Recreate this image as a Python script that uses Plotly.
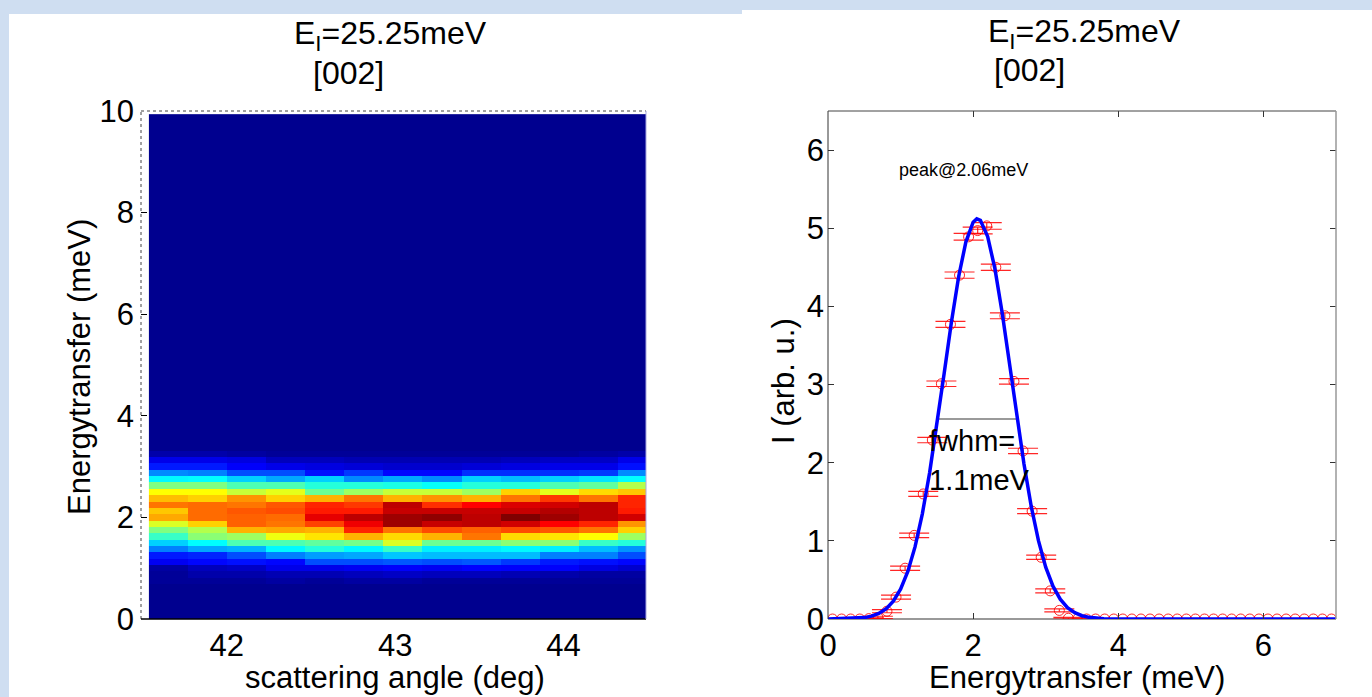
import plotly.graph_objects as go

W, H = 1372, 697
FONT = "Liberation Sans"

# ---------------- data: left panel (heatmap) ----------------
angle_centers = [41.653, 41.885, 42.117, 42.349, 42.581, 42.813, 43.045,
                 43.277, 43.509, 43.741, 43.973, 44.205, 44.437]
E_START, E_STEP, N_E = 0.0, 0.125, 80
BAND_FIRST_ROW = 6  # energy row index of first band row (E = 0.75 meV)
# normalised intensity, rows from E=0.75 up to E=3.25 meV, 13 angle columns
band_rows = [
    [0.01, 0.01, 0.01, 0.02, 0.01, 0.02, 0.02, 0.01, 0.01, 0.01, 0.01, 0.01, 0.01],
    [0.01, 0.03, 0.03, 0.04, 0.04, 0.05, 0.06, 0.05, 0.05, 0.04, 0.03, 0.02, 0.02],
    [0.02, 0.05, 0.06, 0.10, 0.10, 0.11, 0.12, 0.11, 0.125, 0.12, 0.12, 0.09, 0.07],
    [0.11, 0.13, 0.14, 0.13, 0.20, 0.20, 0.21, 0.20, 0.21, 0.18, 0.15, 0.14, 0.13],
    [0.15, 0.16, 0.20, 0.25, 0.28, 0.29, 0.32, 0.31, 0.31, 0.31, 0.25, 0.25, 0.20],
    [0.25, 0.29, 0.30, 0.37, 0.41, 0.37, 0.43, 0.36, 0.36, 0.37, 0.36, 0.31, 0.27],
    [0.33, 0.375, 0.45, 0.45, 0.47, 0.49, 0.59, 0.48, 0.48, 0.51, 0.51, 0.43, 0.41],
    [0.43, 0.51, 0.53, 0.61, 0.65, 0.70, 0.66, 0.70, 0.76, 0.66, 0.65, 0.625, 0.53],
    [0.50, 0.55, 0.70, 0.71, 0.70, 0.84, 0.76, 0.80, 0.78, 0.80, 0.79, 0.76, 0.67],
    [0.59, 0.67, 0.78, 0.76, 0.81, 0.89, 0.97, 0.93, 0.94, 0.92, 0.875, 0.84, 0.73],
    [0.71, 0.77, 0.78, 0.77, 0.90, 0.94, 0.97, 0.985, 0.94, 1.00, 0.97, 0.94, 0.92],
    [0.68, 0.77, 0.79, 0.80, 0.85, 0.85, 0.93, 0.93, 0.93, 0.93, 0.95, 0.94, 0.85],
    [0.76, 0.77, 0.76, 0.79, 0.84, 0.82, 0.94, 0.83, 0.875, 0.91, 0.92, 0.94, 0.84],
    [0.69, 0.67, 0.73, 0.67, 0.70, 0.76, 0.70, 0.73, 0.70, 0.76, 0.82, 0.76, 0.84],
    [0.625, 0.625, 0.57, 0.60, 0.48, 0.53, 0.57, 0.57, 0.53, 0.67, 0.60, 0.66, 0.68],
    [0.50, 0.50, 0.45, 0.45, 0.41, 0.41, 0.40, 0.38, 0.41, 0.41, 0.45, 0.47, 0.55],
    [0.37, 0.375, 0.33, 0.29, 0.33, 0.26, 0.29, 0.26, 0.33, 0.31, 0.33, 0.35, 0.375],
    [0.26, 0.25, 0.20, 0.20, 0.14, 0.18, 0.13, 0.13, 0.17, 0.17, 0.17, 0.18, 0.26],
    [0.15, 0.15, 0.12, 0.10, 0.09, 0.08, 0.07, 0.07, 0.08, 0.09, 0.10, 0.10, 0.14],
    [0.10, 0.10, 0.09, 0.05, 0.05, 0.04, 0.04, 0.04, 0.04, 0.05, 0.06, 0.06, 0.10],
    [0.03, 0.03, 0.02, 0.01, 0.01, 0.01, 0.01, 0.01, 0.01, 0.01, 0.01, 0.02, 0.03],
]
ncol = len(angle_centers)
z_map = ([[0.0] * ncol for _ in range(BAND_FIRST_ROW)] + band_rows +
         [[0.0] * ncol for _ in range(N_E - BAND_FIRST_ROW - len(band_rows))])

# ---------------- data: right panel (cut + fit) ----------------
PT_START, PT_STEP = 0.0625, 0.125
I_points = [0, 0, 0, 0, 0.005, 0.02, 0.10, 0.28, 0.65, 1.07, 1.60, 2.29, 3.01,
            3.77, 4.40, 4.89, 4.97, 5.03, 4.50, 3.88, 3.04, 2.15, 1.38, 0.79,
            0.36, 0.11, 0.01] + [0] * 29
I_err = [0, 0, 0, 0, 0.01, 0.015, 0.02, 0.025, 0.027, 0.03, 0.032, 0.035, 0.035,
         0.038, 0.04, 0.043, 0.043, 0.043, 0.04, 0.038, 0.035, 0.035, 0.032,
         0.028, 0.025, 0.02, 0.01] + [0] * 29
fit_E = [0.0, 0.4, 0.5, 0.6, 0.7, 0.8, 0.9, 1.0, 1.1, 1.2, 1.3, 1.4, 1.5, 1.6,
         1.7, 1.8, 1.9, 2.0, 2.05, 2.1, 2.2, 2.3, 2.4, 2.5, 2.6, 2.7, 2.8, 2.9,
         3.0, 3.1, 3.2, 3.3, 3.4, 3.5, 3.6, 3.7, 3.8, 7.0]
fit_I = [0.0, 0.009, 0.018, 0.037, 0.071, 0.130, 0.228, 0.381, 0.608, 0.926,
         1.346, 1.870, 2.480, 3.139, 3.794, 4.379, 4.826, 5.077, 5.12, 5.101,
         4.893, 4.482, 3.919, 3.272, 2.609, 1.986, 1.443, 1.002, 0.664, 0.420,
         0.254, 0.146, 0.081, 0.042, 0.021, 0.010, 0.004, 0.0]
fwhm_E = [1.51, 2.61]
fwhm_I = [2.56, 2.56]

# MATLAB-style jet
jet = [[0.0, "rgb(0,0,143)"], [0.125, "rgb(0,0,255)"], [0.375, "rgb(0,255,255)"],
       [0.625, "rgb(255,255,0)"], [0.875, "rgb(255,0,0)"], [1.0, "rgb(128,0,0)"]]

def px(x):
    return x / W

def py(y):
    return 1 - y / H

fig = go.Figure()

fig.add_trace(go.Heatmap(
    x=angle_centers, y0=E_START, dy=E_STEP, z=z_map,
    colorscale=jet, zmin=0, zmax=1, showscale=False,
    xaxis="x", yaxis="y", hoverinfo="skip"))

fig.add_trace(go.Scatter(
    x=fwhm_E, y=fwhm_I, mode="lines", line=dict(color="#9a9a9a", width=2),
    xaxis="x2", yaxis="y2", showlegend=False, hoverinfo="skip"))

fig.add_trace(go.Scatter(
    x0=PT_START, dx=PT_STEP, y=I_points, mode="markers",
    marker=dict(symbol="circle-open", size=10, color="rgba(255,0,0,0.85)",
                line=dict(width=1)),
    error_y=dict(type="data", array=I_err, visible=True, color="rgba(255,0,0,0.85)",
                 thickness=1.2, width=15),
    xaxis="x2", yaxis="y2", showlegend=False))

fig.add_trace(go.Scatter(
    x=fit_E, y=fit_I, mode="lines", line=dict(color="#0000ff", width=3.5),
    xaxis="x2", yaxis="y2", showlegend=False))

tickfont = dict(family=FONT, size=31, color="black")

fig.update_layout(
    template="none",
    width=W, height=H, margin=dict(l=0, r=0, t=0, b=0, pad=0, autoexpand=False),
    paper_bgcolor="rgb(207,222,241)", plot_bgcolor="white",
    showlegend=False,
    xaxis=dict(domain=[px(141), px(646)], range=[41.49, 44.49],
               tickvals=[42, 43, 44], ticks="", showline=False,
               showgrid=False, zeroline=False, tickfont=tickfont, anchor="y",
               automargin=False, ticklabelstandoff=5),
    yaxis=dict(domain=[py(619), py(111)], range=[0, 10],
               tickvals=[0, 2, 4, 6, 8, 10], ticks="inside", ticklen=6,
               tickcolor="black", showline=False, showgrid=False,
               zeroline=False, tickfont=tickfont, anchor="x",
               ticklabelstandoff=6, automargin=False),
    xaxis2=dict(domain=[px(828), px(1336)], range=[0, 7],
                tickvals=[0, 2, 4, 6], ticks="inside", ticklen=6,
                tickcolor="#333", mirror="ticks", showline=False,
                showgrid=False, zeroline=False, tickfont=tickfont, anchor="y2",
                automargin=False, ticklabelstandoff=5),
    yaxis2=dict(domain=[py(619), py(111)], range=[0, 6.5],
                tickvals=[0, 1, 2, 3, 4, 5, 6], ticks="inside", ticklen=6,
                tickcolor="#333", mirror="ticks", showline=False,
                showgrid=False, zeroline=False, tickfont=tickfont, anchor="x2",
                ticklabelstandoff=3, automargin=False),
)

shapes = [
    # white panels on blue background
    dict(type="rect", xref="paper", yref="paper", x0=px(9), x1=px(742),
         y0=0, y1=py(14), fillcolor="white", line=dict(width=0), layer="below"),
    dict(type="rect", xref="paper", yref="paper", x0=px(742), x1=1,
         y0=0, y1=py(10), fillcolor="white", line=dict(width=0), layer="below"),
    # left frame
    dict(type="line", xref="x domain", yref="y domain", x0=0, x1=0, y0=0, y1=1,
         line=dict(color="#444", width=1, dash="dot")),
    dict(type="line", xref="x domain", yref="y domain", x0=0, x1=1, y0=1, y1=1,
         line=dict(color="#444", width=1, dash="dot")),
    dict(type="line", xref="x domain", yref="y domain", x0=0, x1=1, y0=0, y1=0,
         line=dict(color="black", width=1.5)),
    dict(type="line", xref="x domain", yref="y domain", x0=1, x1=1, y0=0, y1=1,
         line=dict(color="#a8a8e0", width=1)),
    # right frame
    dict(type="line", xref="x2 domain", yref="y2 domain", x0=0, x1=0, y0=0, y1=1,
         line=dict(color="#333", width=1)),
    dict(type="line", xref="x2 domain", yref="y2 domain", x0=0, x1=1, y0=1, y1=1,
         line=dict(color="#444", width=1)),
    dict(type="line", xref="x2 domain", yref="y2 domain", x0=1, x1=1, y0=0, y1=1,
         line=dict(color="#999", width=1.5)),
    dict(type="line", xref="x2 domain", yref="y2 domain", x0=0, x1=1, y0=0, y1=0,
         line=dict(color="#999", width=2), layer="below"),
]
fig.update_layout(shapes=shapes)

def ann(text, x, y, size=31, xref="paper", yref="paper", xanchor="center",
        yanchor="middle", angle=0):
    return dict(text=text, x=x, y=y, xref=xref, yref=yref, xanchor=xanchor,
                yanchor=yanchor, showarrow=False, textangle=angle,
                font=dict(family=FONT, size=size, color="black"))

annotations = [
    ann("E<sub>I</sub>=25.25meV", px(390), py(36), size=32),
    ann("[002]", px(348), py(73), size=32),
    ann("E<sub>I</sub>=25.25meV", px(1084), py(33), size=32),
    ann("[002]", px(1029), py(70), size=32),
    ann("Energytransfer (meV)", px(80), py(367), angle=-90),
    ann("scattering angle (deg)", px(395), py(677)),
    ann("I (arb. u.)", px(783), py(381), angle=-90),
    ann("Energytransfer (meV)", px(1077), py(677)),
    ann("peak@2.06meV", 0.95, 5.74, size=18, xref="x2", yref="y2", xanchor="left"),
    ann("fwhm=", 1.37, 2.28, size=29, xref="x2", yref="y2", xanchor="left"),
    ann("1.1meV", 1.37, 1.78, size=29, xref="x2", yref="y2", xanchor="left"),
]
fig.update_layout(annotations=annotations)

fig.write_html("out.html")
